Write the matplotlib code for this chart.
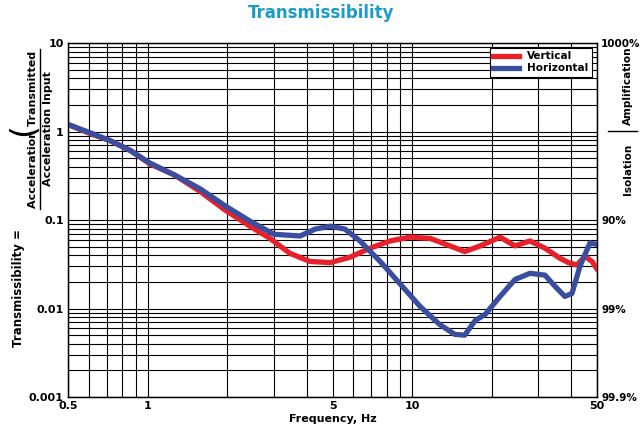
import matplotlib
matplotlib.use("Agg")
import matplotlib.pyplot as plt
from matplotlib.ticker import FixedLocator, NullFormatter, LogLocator

red_f = [0.5, 0.605, 0.72, 0.86, 1.02, 1.27, 1.58, 1.96, 2.44, 2.9, 3.45, 4.11, 4.9,
         5.82, 6.93, 8.25, 9.8, 11.7, 13.9, 15.8, 18.1, 21.5, 24.5, 27.9, 31.8, 36.2,
         39.0, 42.0, 45.0, 47.9, 50.0]
red_v = [1.2, 0.95, 0.79, 0.61, 0.43, 0.32, 0.21, 0.13, 0.085, 0.062, 0.042, 0.034, 0.033,
         0.038, 0.048, 0.058, 0.064, 0.062, 0.051, 0.044, 0.051, 0.064, 0.051, 0.058, 0.048,
         0.037, 0.033, 0.031, 0.039, 0.034, 0.028]
blue_f = [0.5, 0.605, 0.72, 0.86, 1.02, 1.27, 1.58, 1.96, 2.44, 3.0, 3.77, 4.3, 4.9, 5.57,
          6.35, 7.57, 9.0, 10.7, 12.7, 14.5, 15.8, 17.3, 18.9, 21.5, 24.5, 27.9, 31.8, 34.7,
          37.8, 40.2, 43.1, 47.0, 50.0]
blue_v = [1.2, 0.97, 0.79, 0.61, 0.44, 0.32, 0.225, 0.145, 0.097, 0.069, 0.066, 0.079, 0.085,
          0.079, 0.058, 0.034, 0.019, 0.0106, 0.0066, 0.0051, 0.0050, 0.0073, 0.0086, 0.0137,
          0.0213, 0.025, 0.0238, 0.0178, 0.0137, 0.0148, 0.030, 0.055, 0.053]

x_ticks = [0.5, 1, 5, 10, 50]
x_labels = ["0.5", "1", "5", "10", "50"]
y_ticks = [0.001, 0.01, 0.1, 1, 10]
y_labels = ["0.001", "0.01", "0.1", "1", "10"]
right_ticks = [0.001, 0.01, 0.1, 10]
right_labels = ["99.9%", "99%", "90%", "1000%"]

fig = plt.figure(figsize=(6.43, 4.30), dpi=100)
ax = fig.add_axes([0.1058, 0.0767, 0.8227, 0.8233])
ax.set_xscale("log")
ax.set_yscale("log")
ax.set_xlim(0.5, 50)
ax.set_ylim(0.001, 10)

ax.plot(red_f, red_v, color="#e8202a", lw=3.8, solid_joinstyle="round", label="Vertical", zorder=3)
ax.plot(blue_f, blue_v, color="#3a4ea0", lw=3.8, solid_joinstyle="round", label="Horizontal", zorder=4)

ax.xaxis.set_major_locator(FixedLocator(x_ticks))
ax.set_xticklabels(x_labels)
ax.xaxis.set_minor_locator(LogLocator(base=10, subs=range(2, 10)))
ax.xaxis.set_minor_formatter(NullFormatter())
ax.yaxis.set_major_locator(FixedLocator(y_ticks))
ax.set_yticklabels(y_labels)
ax.yaxis.set_minor_locator(LogLocator(base=10, subs=range(2, 10)))
ax.yaxis.set_minor_formatter(NullFormatter())
ax.grid(True, which="both", color="black", lw=0.8)
ax.tick_params(which="both", length=0, labelsize=8, pad=3)
for lbl in ax.get_xticklabels() + ax.get_yticklabels():
    lbl.set_fontweight("bold")
for s in ax.spines.values():
    s.set_linewidth(1)

ax2 = ax.twinx()
ax2.set_yscale("log")
ax2.set_ylim(0.001, 10)
ax2.yaxis.set_major_locator(FixedLocator(right_ticks))
ax2.set_yticklabels(right_labels, fontsize=7.5, fontweight="bold")
ax2.yaxis.set_minor_locator(FixedLocator([]))
ax2.tick_params(length=0, pad=3)

ax.set_xlabel("Frequency, Hz", fontsize=8, fontweight="bold", labelpad=2)
fig.text(0.5, 0.97, "Transmissibility", ha="center", va="center", fontsize=12,
         fontweight="bold", color="#1a9bc9")

# left label with fraction
fig.text(0.028, 0.33, "Transmissibility =", rotation=90, ha="center", va="center",
         fontsize=8.5, fontweight="bold")
fig.text(0.036, 0.70, "(", rotation=90, ha="center", va="center", fontsize=24)
fig.text(0.052, 0.70, "Acceleration Transmitted", rotation=90, ha="center", va="center",
         fontsize=8, fontweight="bold")
fig.text(0.074, 0.70, "Acceleration Input", rotation=90, ha="center", va="center",
         fontsize=8, fontweight="bold")
fig.add_artist(plt.Line2D([0.0625, 0.0625], [0.515, 0.885], color="black", lw=1))

# right amplification / isolation labels
fig.text(0.977, 0.80, "Amplification", rotation=90, ha="center", va="center",
         fontsize=7.5, fontweight="bold")
fig.text(0.977, 0.605, "Isolation", rotation=90, ha="center", va="center",
         fontsize=7.5, fontweight="bold")
fig.add_artist(plt.Line2D([0.945, 0.99], [0.695, 0.695], color="black", lw=1))

leg = ax.legend(loc="upper right", fontsize=7.5, frameon=True, fancybox=False,
                edgecolor="black", framealpha=1, handlelength=2.5, borderpad=0.3,
                labelspacing=0.2)
for t in leg.get_texts():
    t.set_fontweight("bold")
leg.get_frame().set_linewidth(0.8)
leg.set_zorder(10)

fig.savefig("out.png", dpi=100)
